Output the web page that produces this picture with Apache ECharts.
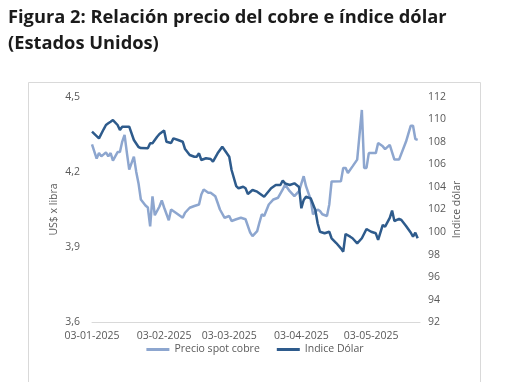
<!DOCTYPE html>
<html><head><meta charset="utf-8">
<script src="https://cdn.jsdelivr.net/npm/echarts@6/dist/echarts.min.js"></script>
<style>html,body{margin:0;padding:0;background:#fff}#c{width:510px;height:382px}</style>
</head><body><div id="c"></div>
<script>
const year = 2025;
const axisStart = '2025-01-03';
const axisEnd = '2025-05-24';
const tickDayOfMonth = '03';

const titleLines = ['Figura 2: Relación precio del cobre e índice dólar', '(Estados Unidos)'];
const leftAxisName = 'US$ x libra';
const rightAxisName = 'Indice dólar';
const seriesNames = ['Precio spot cobre', 'Indice Dólar'];

const leftTicks = [3.6, 3.9, 4.2, 4.5];
const rightTicks = [92, 94, 96, 98, 100, 102, 104, 106, 108, 110, 112];

const copperDates = ['01-03','01-05','01-06','01-07','01-09','01-10','01-11','01-12','01-14','01-15','01-16','01-17','01-18','01-19','01-21','01-22','01-23','01-24','01-26','01-27','01-28','01-29','01-30',
'02-01','02-02','02-03','02-05','02-06','02-08','02-11','02-12','02-14','02-16','02-18','02-19','02-20','02-22','02-23','02-25','02-26','02-27',
'03-01','03-03','03-04','03-06','03-08','03-10','03-12','03-13','03-15','03-16','03-17','03-18','03-20','03-22','03-24','03-26','03-27','03-29','03-31',
'04-02','04-04','04-05','04-07','04-08','04-10','04-11','04-12','04-14','04-15','04-16','04-20','04-21','04-22','04-23','04-25','04-27','04-29','04-30',
'05-01','05-02','05-05','05-06','05-08','05-09','05-11','05-13','05-15','05-18','05-20','05-21','05-22','05-23'];
const copperValues = [4.310,4.253,4.275,4.262,4.278,4.262,4.275,4.245,4.279,4.279,4.321,4.348,4.276,4.209,4.261,4.201,4.154,4.090,4.066,4.058,3.983,4.102,4.027,
4.062,4.086,4.058,4.007,4.050,4.037,4.017,4.037,4.057,4.064,4.070,4.110,4.130,4.117,4.117,4.103,4.077,4.050,
4.017,4.024,4.004,4.011,4.017,4.011,3.958,3.944,3.964,3.999,4.031,4.024,4.070,4.090,4.097,4.130,4.150,4.123,4.103,
4.123,4.183,4.143,4.090,4.031,4.050,4.044,4.031,4.024,4.070,4.162,4.163,4.216,4.216,4.196,4.222,4.249,4.447,4.216,
4.216,4.275,4.275,4.315,4.302,4.291,4.308,4.249,4.249,4.321,4.384,4.384,4.331,4.328];

const dollarDates = ['01-03','01-06','01-08','01-09','01-10','01-11','01-12','01-14','01-15','01-16','01-19','01-21','01-23','01-24','01-27','01-28','01-29','01-31',
'02-01','02-03','02-04','02-06','02-07','02-09','02-11','02-12','02-14','02-16','02-17','02-18','02-19','02-21','02-23','02-24','02-26','02-28',
'03-01','03-03','03-04','03-06','03-07','03-09','03-10','03-11','03-13','03-15','03-18','03-21','03-23','03-25','03-26','03-27','03-29','03-31',
'04-02','04-03','04-04','04-05','04-07','04-09','04-10','04-11','04-13','04-15','04-16','04-18','04-20','04-21','04-22','04-24','04-25','04-27','04-29',
'05-01','05-03','05-05','05-06','05-08','05-09','05-11','05-12','05-13','05-15','05-16','05-18','05-20','05-21','05-22','05-23'];
const dollarValues = [108.90,108.31,109.11,109.49,109.64,109.78,109.93,109.49,109.05,109.34,109.34,108.16,107.54,107.45,107.43,107.87,107.87,108.45,
108.69,109.00,108.01,107.90,108.31,108.16,108.01,107.36,106.83,106.68,106.68,106.98,106.39,106.54,106.48,106.24,106.98,107.57,
107.27,106.68,105.50,104.08,103.88,104.02,103.88,103.37,103.73,103.58,103.13,103.88,104.17,104.17,104.57,104.32,104.17,104.32,
103.99,102.11,102.84,103.13,102.99,101.96,100.78,100.03,99.89,100.03,99.45,99.03,98.56,98.26,99.83,99.59,99.45,99.00,99.45,
100.27,100.03,99.89,99.30,100.63,100.48,101.25,101.91,100.98,101.16,101.07,100.54,99.96,99.59,99.94,99.45];

// daily category axis
const categories = [];
{
  const d = new Date(axisStart + 'T00:00:00Z');
  const end = new Date(axisEnd + 'T00:00:00Z');
  while (d <= end) {
    categories.push(d.toISOString().slice(0, 10));
    d.setUTCDate(d.getUTCDate() + 1);
  }
}
function toDaily(dates, values) {
  const m = {};
  dates.forEach((s, i) => { m[year + '-' + s] = values[i]; });
  return categories.map(c => (c in m ? m[c] : null));
}

const labelColor = '#595959';
const font = 'Open Sans';
const lightBlue = '#8da6cf';
const darkBlue = '#2e5b8c';

const chart = echarts.init(document.getElementById('c'), null, { renderer: 'canvas' });
chart.setOption({
  backgroundColor: '#ffffff',
  animation: false,
  graphic: [
    { type: 'text', left: 8, top: 9, style: { text: titleLines[0], font: 'bold 18.3px "Open Sans"', fill: '#1b1b1b' } },
    { type: 'text', left: 8, top: 35, style: { text: titleLines[1], font: 'bold 18.3px "Open Sans"', fill: '#1b1b1b' } },
    { type: 'rect', shape: { x: 28.5, y: 82.5, width: 452, height: 320 }, style: { fill: 'none', stroke: '#d9d9d9', lineWidth: 1 }, silent: true, z: -1 }
  ],
  grid: { left: 92, right: 90, top: 96.7, bottom: 59.7, containLabel: false },
  legend: {
    bottom: 22, left: 'center', itemWidth: 23, itemHeight: 3, itemGap: 17, icon: 'rect',
    textStyle: { color: labelColor, fontFamily: font, fontSize: 10.5 },
    data: seriesNames
  },
  xAxis: {
    type: 'category', data: categories, boundaryGap: false,
    axisLine: { show: true, lineStyle: { color: '#d9d9d9', width: 1 } },
    axisTick: { show: false },
    splitLine: { show: false },
    axisLabel: {
      color: labelColor, fontFamily: font, fontSize: 10.5, margin: 8,
      interval: (idx, val) => val.slice(8, 10) === tickDayOfMonth,
      formatter: v => v.slice(8, 10) + '-' + v.slice(5, 7) + '-' + v.slice(0, 4)
    }
  },
  yAxis: [
    {
      type: 'value', min: leftTicks[0], max: leftTicks[leftTicks.length - 1], interval: 0.3,
      name: leftAxisName, nameLocation: 'middle', nameGap: 32, nameRotate: 90, nameMoveOverlap: false,
      nameTextStyle: { color: labelColor, fontFamily: font, fontSize: 10.5 },
      axisLine: { show: false }, axisTick: { show: false }, splitLine: { show: false },
      axisLabel: { color: labelColor, fontFamily: font, fontSize: 10.5, margin: 12,
        formatter: v => v.toFixed(1).replace('.', ',') }
    },
    {
      type: 'value', position: 'right', min: rightTicks[0], max: rightTicks[rightTicks.length - 1], interval: 2,
      name: rightAxisName, nameLocation: 'middle', nameGap: 32, nameRotate: 90, nameMoveOverlap: false,
      nameTextStyle: { color: labelColor, fontFamily: font, fontSize: 10.5 },
      axisLine: { show: false }, axisTick: { show: false }, splitLine: { show: false },
      axisLabel: { color: labelColor, fontFamily: font, fontSize: 10.5, margin: 8 }
    }
  ],
  series: [
    {
      name: seriesNames[0], type: 'line', yAxisIndex: 0, data: toDaily(copperDates, copperValues),
      connectNulls: true, symbol: 'none', lineStyle: { color: lightBlue, width: 2.5 }, itemStyle: { color: lightBlue }
    },
    {
      name: seriesNames[1], type: 'line', yAxisIndex: 1, data: toDaily(dollarDates, dollarValues),
      connectNulls: true, symbol: 'none', lineStyle: { color: darkBlue, width: 2.5 }, itemStyle: { color: darkBlue }
    }
  ]
});
</script>
</body></html>
